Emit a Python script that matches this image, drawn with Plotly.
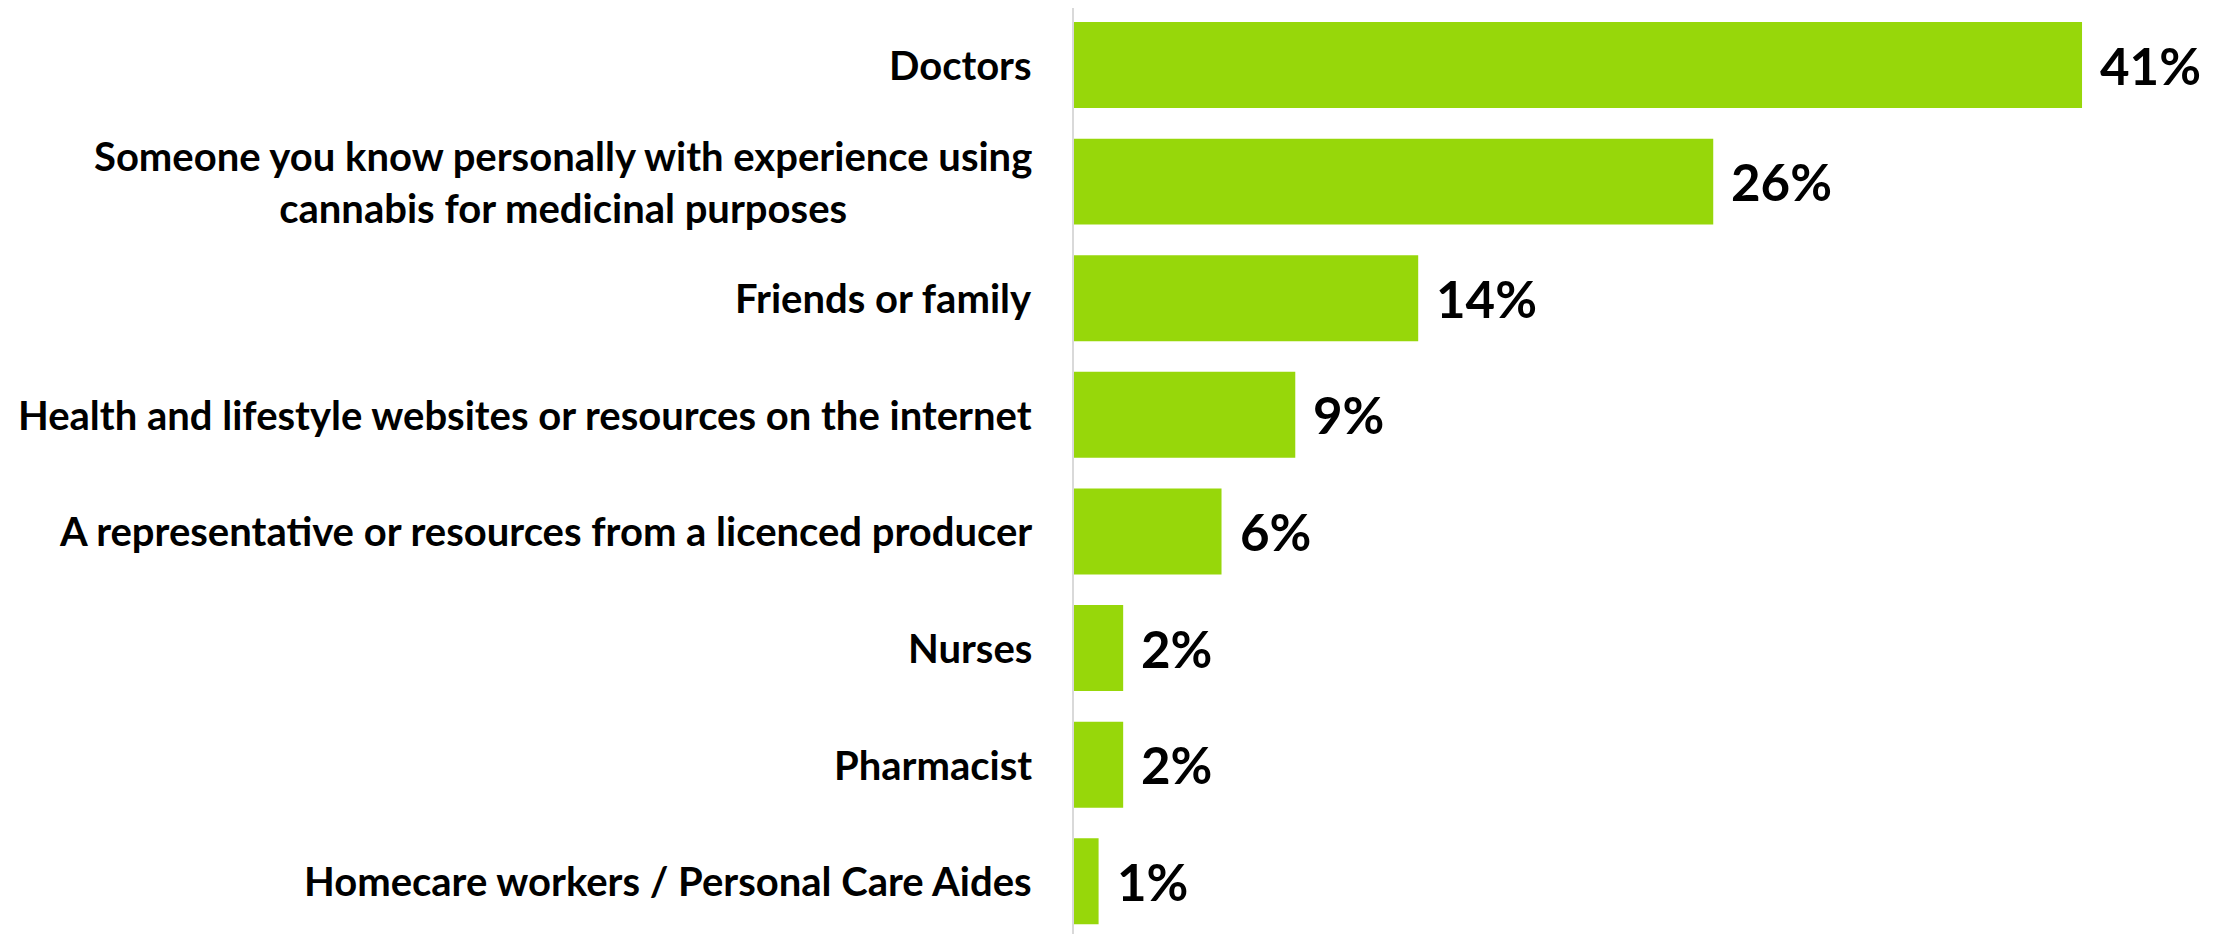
import plotly.graph_objects as go

# Fuentes de información sobre cannabis medicinal (% de encuestados)
FUENTES = [
    "Doctors",
    "Someone you know personally with experience using<br>cannabis for medicinal purposes",
    "Friends or family",
    "Health and lifestyle websites or resources on the internet",
    "A representative or resources from a licenced producer",
    "Nurses",
    "Pharmacist",
    "Homecare workers / Personal Care Aides",
]
PORCENTAJES = [41, 26, 14, 9, 6, 2, 2, 1]
ETIQUETAS = ["41%", "26%", "14%", "9%", "6%", "2%", "2%", "1%"]

VERDE = "#97d70a"
FUENTE = "Lato, 'Open Sans', Arial, sans-serif"

fig = go.Figure(
    go.Bar(
        x=PORCENTAJES,
        y=FUENTES,
        orientation="h",
        marker={"color": VERDE, "line": {"width": 0}},
        width=0.7375,
        hoverinfo="skip",
    )
)

# Valores a la derecha de cada barra
for fuente, valor, etiqueta in zip(FUENTES, PORCENTAJES, ETIQUETAS):
    fig.add_annotation(
        x=valor, y=fuente, text=f"<b>{etiqueta}</b>",
        xanchor="left", xshift=16, showarrow=False,
        font={"size": 51, "color": "#000000", "family": FUENTE},
    )
    # Nombre de la categoría, bloque centrado y alineado a la derecha del eje
    fig.add_annotation(
        x=0, xref="paper", y=fuente, text=f"<b>{fuente}</b>",
        xanchor="right", xshift=-40, align="center", showarrow=False,
        font={"size": 40, "color": "#000000", "family": FUENTE},
    )

fig.update_layout(
    width=2224,
    height=934,
    plot_bgcolor="white",
    paper_bgcolor="white",
    showlegend=False,
    margin={"l": 1066, "r": 0, "t": 0, "b": 0},
    xaxis={
        "range": [0, 47.1],
        "visible": False,
    },
    yaxis={
        "categoryorder": "array",
        "categoryarray": FUENTES,
        "range": [7.521, -0.489],
        "showticklabels": False,
        "showgrid": False,
        "zeroline": False,
        "showline": True,
        "linecolor": "#d9d9d9",
        "linewidth": 2,
    },
)

fig.write_html("out.html")
